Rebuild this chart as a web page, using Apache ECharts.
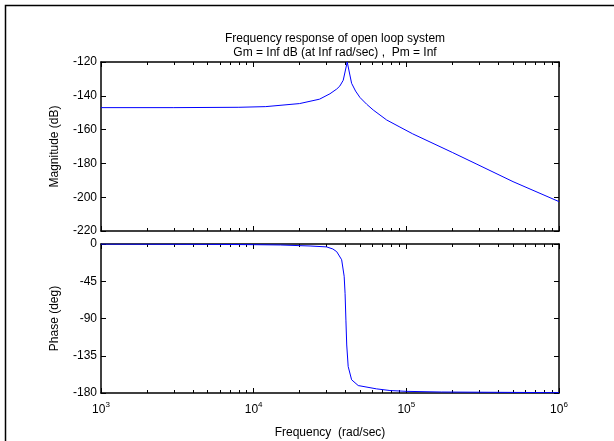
<!DOCTYPE html>
<html>
<head>
<meta charset="utf-8">
<script src="https://cdn.jsdelivr.net/npm/echarts@6/dist/echarts.min.js"></script>
<style>html,body{margin:0;padding:0;background:#fff}#c{width:614px;height:441px}</style>
</head>
<body>
<div id="c"></div>
<script>
// ---- data ----
const titleLines = ['Frequency response of open loop system', 'Gm = Inf dB (at Inf rad/sec) ,  Pm = Inf'];
const magFreq = [1000, 3000, 8000, 12000, 20000, 27000, 31600, 35000, 36700, 38600, 41000, 43800, 46500, 49700, 55000, 60700, 74300, 90800, 110000, 200000, 290000, 500000, 1000000];
const magDb   = [-147, -147, -146.8, -146.4, -144.6, -142, -138.8, -136, -134.2, -130.8, -120, -132.6, -137.2, -141, -145, -148.4, -154.3, -158.5, -162.5, -173.5, -180.5, -190.8, -202.6];
const phFreq  = [1000, 5000, 10000, 15000, 23400, 30000, 33000, 35000, 37700, 39150, 39700, 40200, 40700, 41600, 43800, 48400, 63800, 78100, 100000, 170000, 1000000];
const phDeg   = [-0.1, -0.4, -0.8, -1.2, -2.4, -3.5, -6, -9.3, -19, -39, -60, -92, -122, -148, -164, -171, -175, -177, -178, -178.8, -179.6];
const magTicks = {min: -220, max: -120, interval: 20};
const phTicks  = {min: -180, max: 0, interval: 45};
const decades = [3, 4, 5, 6];

const FONT = 'Liberation Sans';
const lmin = decades[0], lmax = decades[decades.length - 1];
const minorLog = [];
for (let e = lmin; e < lmax; e++) {
  for (let k = 2; k <= 9; k++) minorLog.push(e + Math.log10(k));
}
const rects = [
  {left: 101, top: 62, width: 458, height: 169},
  {left: 101, top: 244, width: 458, height: 149}
];
// grid 0/1: data plots; grid 2/3: same rectangles, carrying only the minor ticks
const grids = [rects[0], rects[1], rects[0], rects[1]];
const lineStyle = {color: '#000', width: 1};
const boxStyle = {color: '#000', width: 1.5};
const axisLineOn = {show: true, onZero: false, lineStyle: boxStyle};
const axisLineOff = {show: false, onZero: false};

function dataXAxes(gi, withLabels) {
  return [
    {type: 'log', logBase: 10, min: Math.pow(10, lmin), max: Math.pow(10, lmax), gridIndex: gi, position: 'bottom',
     axisLine: axisLineOn, splitLine: {show: false},
     axisTick: {show: true, inside: true, length: 5, lineStyle},
     axisLabel: withLabels ? {
       show: true, margin: 8, color: '#000',
       formatter: v => '{b|10}{e|' + Math.round(Math.log10(v)) + '}',
       rich: {b: {fontFamily: FONT, fontSize: 12, color: '#000'},
              e: {fontFamily: FONT, fontSize: 8, color: '#000', padding: [0, 0, 9, 0]}}
     } : {show: false},
     name: withLabels ? 'Frequency  (rad/sec)' : '', nameLocation: 'middle', nameGap: 34,
     nameTextStyle: {fontFamily: FONT, fontSize: 12, color: '#000'}},
    {type: 'value', min: lmin, max: lmax, interval: 1, gridIndex: gi, position: 'top',
     axisLine: axisLineOn, splitLine: {show: false}, axisLabel: {show: false},
     axisTick: {show: true, inside: true, length: 5, lineStyle}}
  ];
}
function minorXAxes(gi) {
  return ['bottom', 'top'].map(pos => ({
    type: 'value', min: lmin, max: lmax, gridIndex: gi, position: pos,
    axisLine: axisLineOff, splitLine: {show: false}, axisLabel: {show: false},
    axisTick: {show: true, inside: true, length: 3, lineStyle, customValues: minorLog}
  }));
}
function dataYAxes(gi, t, name) {
  return [
    {type: 'value', gridIndex: gi, position: 'left', min: t.min, max: t.max, interval: t.interval,
     axisLine: axisLineOn, splitLine: {show: false},
     axisTick: {show: true, inside: true, length: 5, lineStyle},
     axisLabel: {show: true, margin: 4, color: '#000', fontFamily: FONT, fontSize: 12},
     name, nameLocation: 'middle', nameGap: 40,
     nameTextStyle: {fontFamily: FONT, fontSize: 12, color: '#000'}},
    {type: 'value', gridIndex: gi, position: 'right', min: t.min, max: t.max, interval: t.interval,
     axisLine: axisLineOn, splitLine: {show: false},
     axisTick: {show: true, inside: true, length: 5, lineStyle},
     axisLabel: {show: false}}
  ];
}
function hiddenYAxis(gi, t) {
  return {type: 'value', gridIndex: gi, min: t.min, max: t.max,
          axisLine: axisLineOff, axisTick: {show: false}, axisLabel: {show: false}, splitLine: {show: false}};
}

const chart = echarts.init(document.getElementById('c'), null, {renderer: 'canvas'});
chart.setOption({
  animation: false,
  backgroundColor: '#fff',
  title: {
    text: titleLines.join('\n'), left: 330, top: 27, textAlign: 'center',
    textStyle: {fontFamily: FONT, fontSize: 12, fontWeight: 'normal', color: '#000', lineHeight: 14}
  },
  graphic: [{type: 'rect', shape: {x: 5.5, y: 5.5, width: 1000, height: 1000},
             style: {fill: 'none', stroke: '#000', lineWidth: 1.5}, silent: true}],
  grid: grids,
  xAxis: [].concat(dataXAxes(0, false), dataXAxes(1, true), minorXAxes(2), minorXAxes(3)),
  yAxis: [].concat(dataYAxes(0, magTicks, 'Magnitude (dB)'), dataYAxes(1, phTicks, 'Phase (deg)'),
                   [hiddenYAxis(2, magTicks), hiddenYAxis(3, phTicks)]),
  series: [
    {type: 'line', xAxisIndex: 0, yAxisIndex: 0, showSymbol: false, symbol: 'none',
     lineStyle: {color: '#0000ff', width: 1}, data: magFreq.map((f, i) => [f, magDb[i]])},
    {type: 'line', xAxisIndex: 2, yAxisIndex: 2, showSymbol: false, symbol: 'none',
     lineStyle: {color: '#0000ff', width: 1}, data: phFreq.map((f, i) => [f, phDeg[i]])}
  ]
});
</script>
</body>
</html>
